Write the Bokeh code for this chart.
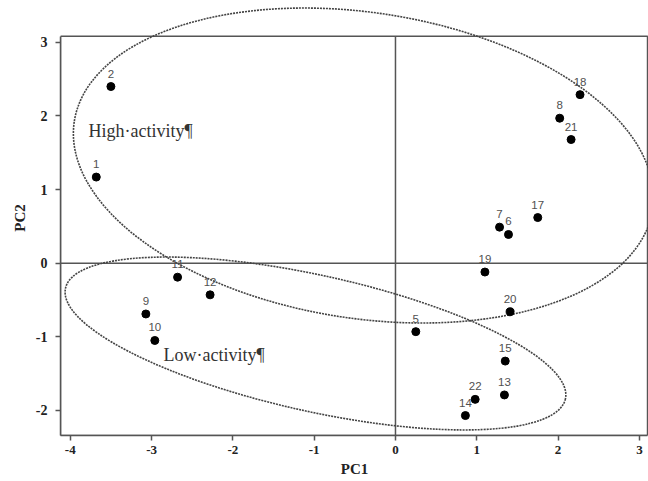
from bokeh.plotting import figure
from bokeh.models import Range1d, FixedTicker, Label
from bokeh.core.properties import value
from bokeh.embed import file_html
from bokeh.resources import INLINE

# ---- data ----
ids = ["1", "2", "5", "6", "7", "8", "9", "10", "11", "12", "13", "14", "15",
       "17", "18", "19", "20", "21", "22"]
pc1 = [-3.68, -3.50, 0.25, 1.39, 1.28, 2.02, -3.07, -2.96, -2.68, -2.28, 1.34,
       0.86, 1.35, 1.75, 2.27, 1.10, 1.41, 2.16, 0.98]
pc2 = [1.17, 2.40, -0.93, 0.39, 0.49, 1.97, -0.69, -1.05, -0.19, -0.43, -1.79,
       -2.07, -1.33, 0.62, 2.29, -0.12, -0.66, 1.68, -1.85]
x_ticks = [-4, -3, -2, -1, 0, 1, 2, 3]
y_ticks = [-2, -1, 0, 1, 2, 3]
group_names = ["High·activity¶", "Low·activity¶"]

# ---- layout constants ----
box_left, box_right, box_bottom, box_top = -4.12, 3.10, -2.341, 3.084
AX = "#555555"
SERIF = "Liberation Serif"

p = figure(width=648, height=481,
           x_range=Range1d(-4.12, 3.112), y_range=Range1d(-2.341, 3.569),
           output_backend="svg", toolbar_location=None,
           min_border_left=60, min_border_right=0, min_border_top=0,
           min_border_bottom=46, background_fill_color="white",
           border_fill_color="white")
p.outline_line_color = None
p.xgrid.visible = False
p.ygrid.visible = False

for ax, ticks, bnds, lab in ((p.xaxis[0], x_ticks, (box_left, box_right), "PC1"),
                             (p.yaxis[0], y_ticks, (box_bottom, box_top), "PC2")):
    ax.ticker = FixedTicker(ticks=ticks)
    ax.major_label_overrides = {t: str(t) for t in ticks}
    ax.bounds = bnds
    ax.axis_line_color = AX
    ax.axis_line_width = 1.5
    ax.major_tick_line_color = AX
    ax.major_tick_line_width = 1.5
    ax.major_tick_out = 5
    ax.major_tick_in = 0
    ax.minor_tick_line_color = None
    ax.major_label_text_font = SERIF
    ax.major_label_text_font_style = "bold"
    ax.major_label_text_font_size = "14px"
    ax.major_label_text_color = "#222222"
    ax.axis_label = lab
    ax.axis_label_text_font = SERIF
    ax.axis_label_text_font_style = "bold"
    ax.axis_label_text_font_size = "15px"
    ax.axis_label_text_color = "#222222"

p.xaxis.major_label_text_font_size = "13px"
p.xaxis.major_label_standoff = 5
p.xaxis.axis_label_standoff = 4
p.yaxis.major_label_standoff = 8
p.yaxis.axis_label_standoff = 5

# plot box and zero lines
p.quad(left=[box_left], right=[box_right], bottom=[box_bottom], top=[box_top],
       fill_color=None, line_color=AX, line_width=1.5)
p.segment(x0=[0, box_left], y0=[box_bottom, 0], x1=[0, box_right], y1=[box_top, 0],
          line_color=AX, line_width=1.5)

# group ellipses (screen-sized)
p.ellipse(x=[-0.394, -0.984], y=[1.327, -1.091], width=[585, 512], height=[306, 136],
          angle=[-0.1515, -0.218], width_units="screen", height_units="screen",
          fill_color=None, line_color="#444444", line_width=1.6, line_dash="2 1")

# points and labels
p.scatter(pc1, pc2, size=8, color="black")
p.text(x=pc1, y=pc2, text=ids, text_font=value("Liberation Sans"),
       text_font_size="11.5px", text_align="center", text_baseline="middle",
       y_offset=-13, text_color="#505050")

p.add_layout(Label(x=-3.776, y=1.80, text=group_names[0], text_font=SERIF,
                   text_font_size="18px", text_baseline="middle", text_color="#333333"))
p.add_layout(Label(x=-2.854, y=-1.254, text=group_names[1], text_font=SERIF,
                   text_font_size="18px", text_baseline="middle", text_color="#333333"))

open("out.html", "w").write(file_html(p, INLINE))
